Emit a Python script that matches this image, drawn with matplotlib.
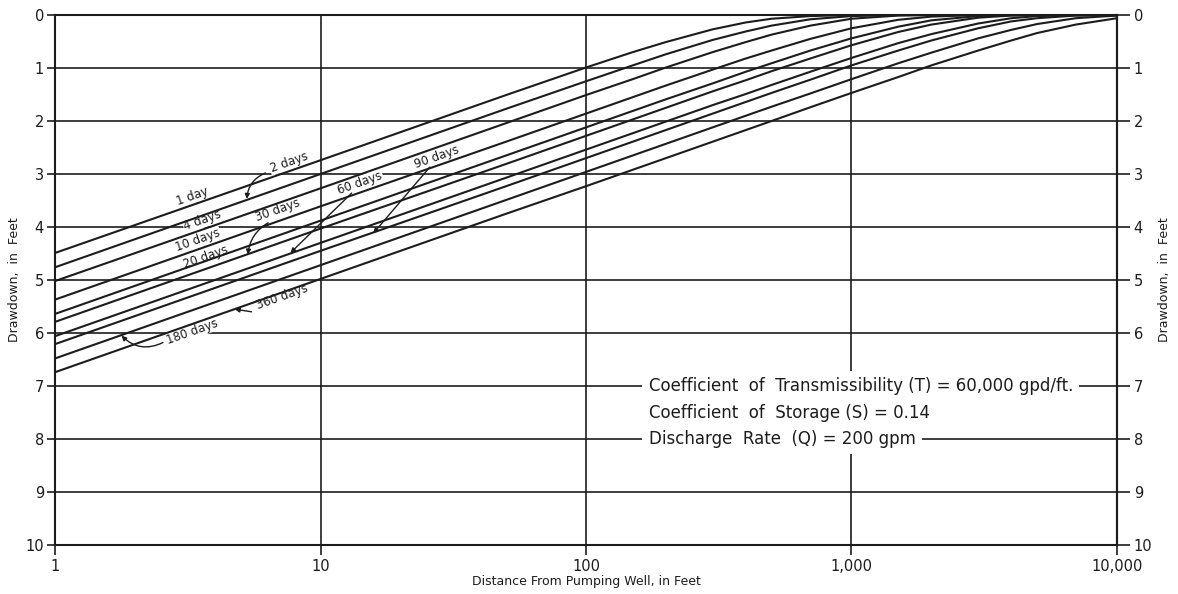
import numpy as np
import matplotlib.pyplot as plt

dist = [1, 10, 50, 100, 150, 200, 300, 400, 500, 700, 1000,
        1500, 2000, 3000, 4000, 5000, 7000, 10000]

# drawdown (ft) for each pumping time, read at the distances above
dd_1 = [4.49, 2.74, 1.51, 0.99, 0.70, 0.51, 0.27, 0.14, 0.07, 0.02, 0.00,
        0, 0, 0, 0, 0, 0, 0]
dd_2 = [4.76, 3.00, 1.77, 1.25, 0.95, 0.74, 0.47, 0.31, 0.20, 0.08, 0.02,
        0.00, 0, 0, 0, 0, 0, 0]
dd_4 = [5.02, 3.27, 2.04, 1.51, 1.21, 0.99, 0.70, 0.51, 0.37, 0.20, 0.07,
        0.01, 0.00, 0, 0, 0, 0, 0]
dd_10 = [5.37, 3.61, 2.39, 1.86, 1.55, 1.33, 1.03, 0.82, 0.67, 0.45, 0.25,
         0.09, 0.03, 0.00, 0, 0, 0, 0]
dd_20 = [5.64, 3.88, 2.65, 2.12, 1.81, 1.59, 1.29, 1.07, 0.91, 0.67, 0.44,
         0.22, 0.10, 0.02, 0.00, 0, 0, 0]
dd_30 = [5.79, 4.03, 2.81, 2.28, 1.97, 1.75, 1.44, 1.23, 1.06, 0.82, 0.57,
         0.32, 0.18, 0.05, 0.01, 0.00, 0, 0]
dd_60 = [6.06, 4.30, 3.07, 2.54, 2.23, 2.01, 1.70, 1.49, 1.32, 1.07, 0.81,
         0.53, 0.36, 0.16, 0.06, 0.02, 0.00, 0]
dd_90 = [6.21, 4.45, 3.23, 2.70, 2.39, 2.17, 1.86, 1.64, 1.47, 1.22, 0.95,
         0.67, 0.48, 0.25, 0.12, 0.06, 0.01, 0.00]
dd_180 = [6.48, 4.72, 3.49, 2.96, 2.65, 2.43, 2.12, 1.90, 1.73, 1.48, 1.21,
          0.91, 0.71, 0.44, 0.28, 0.17, 0.06, 0.01]
dd_360 = [6.74, 4.98, 3.75, 3.23, 2.92, 2.70, 2.39, 2.17, 2.00, 1.74, 1.47,
          1.17, 0.95, 0.67, 0.48, 0.34, 0.18, 0.06]

curves = [dd_1, dd_2, dd_4, dd_10, dd_20, dd_30, dd_60, dd_90, dd_180, dd_360]

x_ticks = [1, 10, 100, 1000, 10000]
x_labels = ['1', '10', '100', '1,000', '10,000']
y_ticks = list(range(0, 11))

notes = ['Coefficient  of  Transmissibility (T) = 60,000 gpd/ft.',
         'Coefficient  of  Storage (S) = 0.14',
         'Discharge  Rate  (Q) = 200 gpm']

ink = '#1c1c1c'
plt.rcParams['font.family'] = 'DejaVu Sans'

fig = plt.figure(figsize=(11.78, 5.94), dpi=100)
ax = fig.add_axes([0.0467, 0.0825, 0.9015, 0.8922])

for c in curves:
    ax.plot(dist, c, color=ink, lw=1.5, zorder=3, solid_capstyle='butt')

ax.set_xscale('log')
ax.set_xlim(1, 10000)
ax.set_ylim(10, 0)
ax.set_xticks(x_ticks)
ax.set_xticklabels(x_labels)
ax.xaxis.set_minor_locator(plt.NullLocator())
ax.set_yticks(y_ticks)
ax.grid(True, color=ink, lw=1.2, zorder=0)
ax.set_axisbelow(True)
for s in ax.spines.values():
    s.set_color(ink)
    s.set_linewidth(1.5)
ax.tick_params(axis='x', length=7, width=1.2, color=ink, labelsize=10.5,
               labelcolor=ink, pad=3)
ax.tick_params(axis='y', length=6, width=1.2, color=ink, labelsize=10.5,
               labelcolor=ink, pad=2)

ax_r = ax.secondary_yaxis('right')
ax_r.set_yticks(y_ticks)
ax_r.tick_params(length=9, width=1.2, color=ink, labelsize=10.5,
                 labelcolor=ink, pad=3)
ax_r.spines['right'].set_linewidth(1.5)
ax_r.spines['right'].set_color(ink)

ax.set_xlabel('Distance From Pumping Well, in Feet', fontsize=9, color=ink,
              labelpad=1)
ax.set_ylabel('Drawdown,  in  Feet', fontsize=9, color=ink, labelpad=3)
ax_r.set_ylabel('Drawdown,  in  Feet', fontsize=9, color=ink, labelpad=4)

# curve labels placed between the lines, rotated with them
rot = 19.5
box = dict(facecolor='white', edgecolor='none', pad=0.5)
lab_kw = dict(fontsize=8.5, color=ink, rotation=rot, rotation_mode='anchor',
              ha='center', va='center', zorder=2, bbox=box)
ax.text(3.28, 3.42, '1 day', **lab_kw)
ax.text(7.6, 2.78, '2 days', **lab_kw)
ax.text(3.6, 3.88, '4 days', **lab_kw)
ax.text(3.45, 4.24, '10 days', **lab_kw)
ax.text(3.7, 4.56, '20 days', **lab_kw)
ax.text(6.9, 3.68, '30 days', **lab_kw)
ax.text(14.1, 3.17, '60 days', **lab_kw)
ax.text(27.5, 2.68, '90 days', **lab_kw)
ax.text(7.2, 5.32, '360 days', **lab_kw)
ax.text(3.3, 5.97, '180 days', **lab_kw)

arr = dict(arrowstyle='-|>', color=ink, lw=1.0, mutation_scale=7,
           shrinkA=0, shrinkB=0)
leaders = [((6.2, 2.98), (5.28, 3.47), 0.3),
           ((6.35, 3.92), (5.33, 4.52), 0.25),
           ((13.1, 3.36), (7.7, 4.49), 0.0),
           ((25.8, 2.87), (15.8, 4.12), 0.0),
           ((5.5, 5.6), (4.75, 5.55), 0.0),
           ((2.55, 6.18), (1.78, 6.05), -0.35)]
for start, end, rad in leaders:
    ax.annotate('', xy=end, xytext=start, zorder=4,
                arrowprops=dict(connectionstyle='arc3,rad=%s' % rad, **arr))

# parameter notes, masking the grid behind them
note_kw = dict(fontsize=12, color=ink, ha='left', va='center', zorder=2,
               bbox=dict(facecolor='white', edgecolor='none', pad=4.5))
ax.text(172, 7.0, notes[0], **note_kw)
ax.text(172, 7.5, notes[1], **note_kw)
ax.text(172, 8.0, notes[2], **note_kw)

fig.savefig('out.png', dpi=100)
